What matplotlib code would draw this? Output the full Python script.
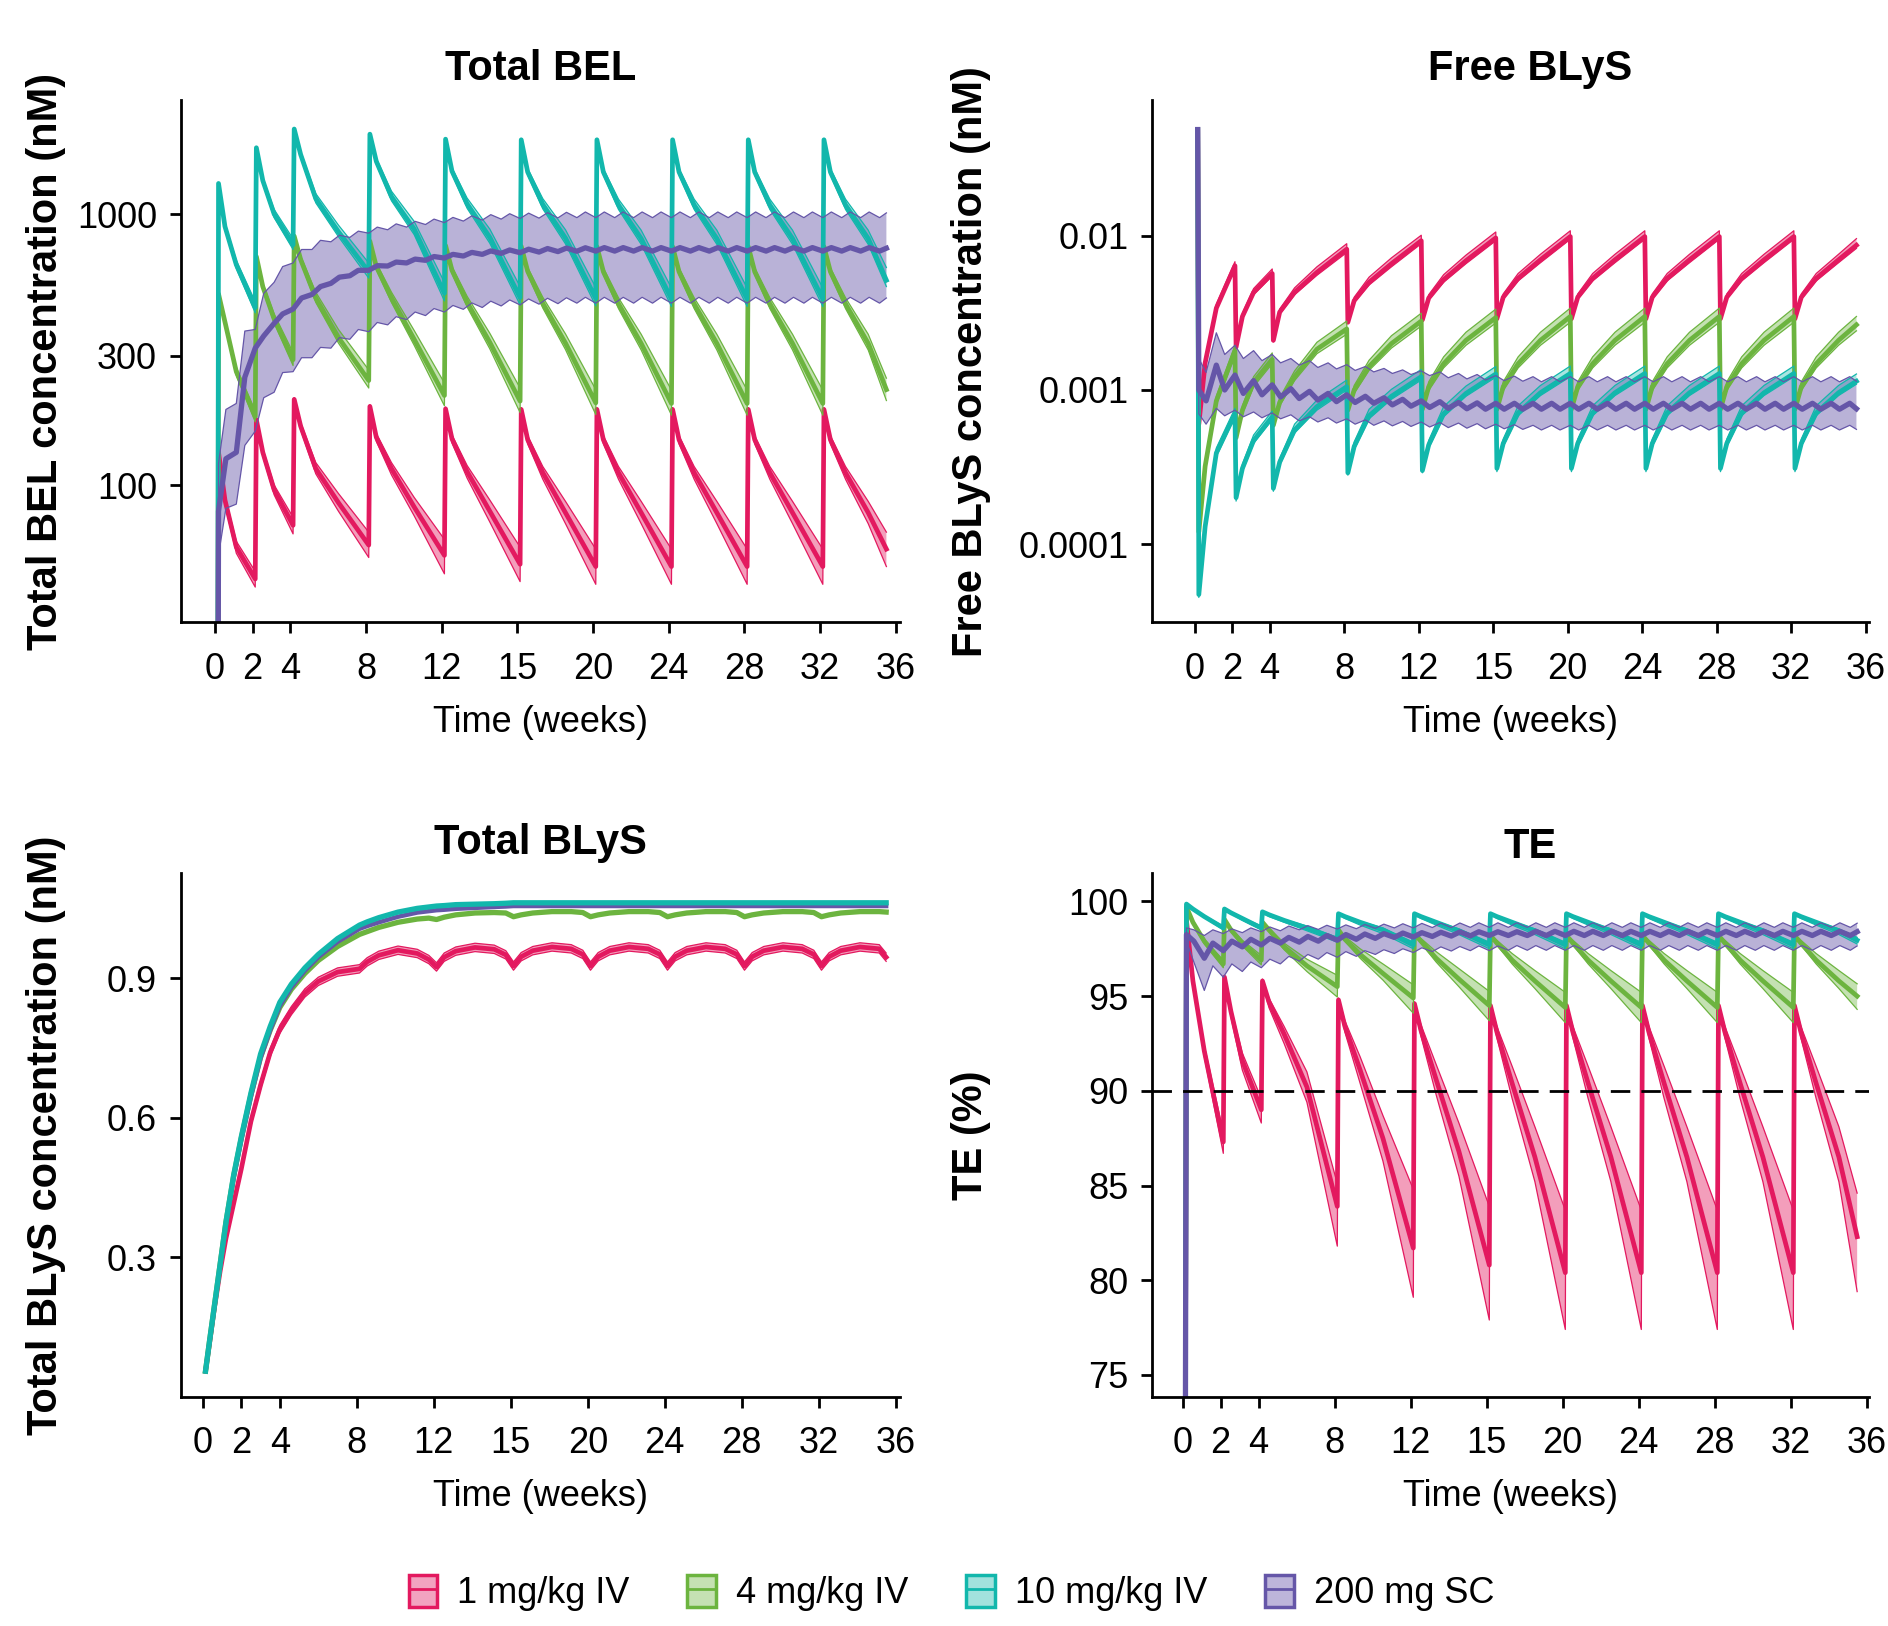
import matplotlib
matplotlib.use("Agg")
import matplotlib.pyplot as plt
from matplotlib.patches import Patch
from matplotlib.lines import Line2D
from matplotlib.ticker import FixedLocator, FixedFormatter, NullLocator

plt.rcParams['font.family'] = ['Liberation Sans', 'DejaVu Sans']

# ---------------- time grids (weeks) ----------------
T_IV = [0.14, 0.20, 0.54, 1.14,
        2.14, 2.20, 2.54, 3.14,
        4.14, 4.20, 4.54, 5.34, 6.54,
        8.14, 8.20, 8.54, 9.34, 10.54,
        12.14, 12.20, 12.54, 13.34, 14.54,
        16.14, 16.20, 16.54, 17.34, 18.54,
        20.14, 20.20, 20.54, 21.34, 22.54,
        24.14, 24.20, 24.54, 25.34, 26.54,
        28.14, 28.20, 28.54, 29.34, 30.54,
        32.14, 32.20, 32.54, 33.34, 34.54,
        35.50]

T_SC = [0.14, 0.20, 0.59,
        1.14, 1.59, 2.14, 2.59, 3.14, 3.59, 4.14, 4.59, 5.14, 5.59, 6.14, 6.59, 7.14, 7.59, 8.14, 8.59, 9.14, 9.59,
        10.14, 10.59, 11.14, 11.59, 12.14, 12.59, 13.14, 13.59, 14.14, 14.59, 15.14, 15.59, 16.14, 16.59, 17.14, 17.59,
        18.14, 18.59, 19.14, 19.59, 20.14, 20.59, 21.14, 21.59, 22.14, 22.59, 23.14, 23.59, 24.14, 24.59, 25.14, 25.59,
        26.14, 26.59, 27.14, 27.59, 28.14, 28.59, 29.14, 29.59, 30.14, 30.59, 31.14, 31.59, 32.14, 32.59, 33.14, 33.59,
        34.14, 34.59, 35.14, 35.50]

T_TB = [0.14, 0.35, 0.6, 0.9, 1.2, 1.6, 2.0, 2.5, 3.0, 3.5, 4.0, 4.6, 5.3, 6.0, 7.0,
        8.14, 8.54, 9.14, 10.14, 11.14, 11.74,
        12.14, 12.54, 13.14, 14.14, 15.14, 15.74,
        16.14, 16.54, 17.14, 18.14, 19.14, 19.74,
        20.14, 20.54, 21.14, 22.14, 23.14, 23.74,
        24.14, 24.54, 25.14, 26.14, 27.14, 27.74,
        28.14, 28.54, 29.14, 30.14, 31.14, 31.74,
        32.14, 32.54, 33.14, 34.14, 35.14, 35.50]

X_TICKS = [0, 2, 4, 8, 12, 16, 20, 24, 28, 32, 36]
X_TICKLABELS = ["0", "2", "4", "8", "12", "15", "20", "24", "28", "32", "36"]

SERIES = ["1 mg/kg IV", "4 mg/kg IV", "10 mg/kg IV", "200 mg SC"]

# ---------------- Total BEL (nM) ----------------
BEL_PINK_MED = [1, 132, 88, 59,
                45, 174, 132, 96,
                71, 207, 165, 115, 86,
                60, 195, 150, 115, 83,
                55, 191, 148, 112, 80,
                51, 190, 147, 111, 79,
                50, 190, 147, 111, 79,
                50, 190, 147, 111, 79,
                50, 190, 147, 111, 79,
                50, 190, 147, 111, 79,
                58]
BEL_PINK_HI = [1, 135, 91, 62,
               48, 177, 136, 100,
               76, 210, 170, 121, 93,
               67, 198, 155, 121, 90,
               63, 194, 153, 118, 88,
               59, 193, 152, 117, 87,
               58, 193, 152, 117, 87,
               58, 193, 152, 117, 87,
               58, 193, 152, 117, 87,
               58, 193, 152, 117, 87,
               67]
BEL_PINK_LO = [1, 129, 85, 56,
               42, 171, 128, 92,
               66, 204, 160, 110, 80,
               54, 192, 145, 109, 77,
               47, 188, 143, 106, 73,
               44, 187, 142, 105, 72,
               43, 187, 142, 105, 72,
               43, 187, 142, 105, 72,
               43, 187, 142, 105, 72,
               43, 187, 142, 105, 72,
               50]

BEL_GREEN_MED = [1, 507, 400, 262,
                 179, 697, 540, 410,
                 290, 829, 680, 490, 350,
                 243, 794, 640, 490, 345,
                 214, 765, 620, 472, 336,
                 204, 760, 615, 468, 334,
                 201, 758, 613, 466, 333,
                 200, 758, 613, 466, 333,
                 200, 758, 613, 466, 333,
                 200, 758, 613, 466, 333,
                 225]
BEL_GREEN_HI = [1, 515, 410, 272,
                188, 705, 555, 428,
                308, 838, 700, 515, 375,
                266, 803, 660, 515, 372,
                238, 774, 640, 497, 363,
                228, 769, 635, 493, 361,
                225, 767, 633, 491, 360,
                224, 767, 633, 491, 360,
                224, 767, 633, 491, 360,
                224, 767, 633, 491, 360,
                248]
BEL_GREEN_LO = [1, 500, 392, 254,
                171, 690, 528, 396,
                276, 820, 665, 472, 334,
                228, 785, 625, 472, 328,
                196, 756, 605, 454, 318,
                185, 751, 600, 450, 316,
                182, 749, 598, 448, 315,
                181, 749, 598, 448, 315,
                181, 749, 598, 448, 315,
                181, 749, 598, 448, 315,
                205]

BEL_TEAL_MED = [1, 1297, 900, 650,
                452, 1757, 1330, 1000,
                770, 2060, 1660, 1140, 860,
                612, 1972, 1565, 1160, 880,
                510, 1890, 1440, 1090, 820,
                492, 1880, 1430, 1085, 815,
                488, 1880, 1430, 1080, 812,
                486, 1880, 1430, 1080, 812,
                486, 1880, 1430, 1080, 812,
                486, 1880, 1430, 1080, 812,
                570]
BEL_TEAL_HI = [1, 1310, 925, 675,
               475, 1775, 1360, 1040,
               810, 2080, 1700, 1190, 910,
               660, 1990, 1605, 1215, 940,
               560, 1910, 1480, 1145, 880,
               540, 1900, 1470, 1140, 875,
               536, 1900, 1470, 1135, 872,
               534, 1900, 1470, 1135, 872,
               534, 1900, 1470, 1135, 872,
               534, 1900, 1470, 1135, 872,
               635]
BEL_TEAL_LO = [1, 1285, 880, 630,
               432, 1740, 1305, 970,
               740, 2040, 1625, 1100, 825,
               580, 1955, 1530, 1120, 840,
               478, 1870, 1405, 1050, 780,
               462, 1860, 1395, 1045, 776,
               458, 1860, 1395, 1040, 773,
               456, 1860, 1395, 1040, 773,
               456, 1860, 1395, 1040, 773,
               456, 1860, 1395, 1040, 773,
               540]

BEL_PURPLE_MED = [1, 80, 125,
                  132, 250, 320, 355, 395, 428, 446, 490, 505, 540, 555, 585, 592, 620, 620, 645, 643, 665,
                  660, 682, 675, 697, 688, 710, 700, 722, 710, 731, 716, 737, 720, 742, 724, 746,
                  727, 749, 729, 751, 730, 752, 730, 752, 730, 752, 730, 752, 730, 752, 730, 752,
                  730, 752, 730, 752, 730, 752, 730, 752, 730, 752, 730, 752, 730, 752, 730, 752,
                  730, 752, 730, 748]
BEL_PURPLE_HI = [1, 120, 190,
                 200, 370, 375, 510, 560, 640, 660, 740, 740, 800, 790, 835, 820, 865, 850, 895, 875, 920,
                 895, 940, 915, 958, 930, 972, 942, 985, 950, 995, 958, 1003, 963, 1008, 966, 1012,
                 968, 1015, 970, 1018, 970, 1018, 970, 1018, 970, 1018, 970, 1018, 970, 1018, 970, 1018,
                 970, 1018, 970, 1018, 970, 1018, 970, 1018, 970, 1018, 970, 1018, 970, 1018, 970, 1018,
                 970, 1018, 970, 1010]
BEL_PURPLE_LO = [1, 55, 82,
                 85, 140, 158, 210, 220, 260, 262, 295, 295, 322, 320, 350, 345, 375, 368, 398, 390, 418,
                 408, 435, 422, 448, 435, 460, 445, 470, 452, 477, 458, 482, 462, 486, 465, 489,
                 467, 491, 469, 493, 469, 493, 469, 493, 469, 493, 469, 493, 469, 493, 469, 493,
                 469, 493, 469, 493, 469, 493, 469, 493, 469, 493, 469, 493, 469, 493, 469, 493,
                 469, 493, 469, 490]

# ---------------- Free BLyS (nM) ----------------
FB_PINK_MED = [0.049, 6.0e-4, 1.5e-3, 3.4e-3,
               6.4e-3, 1.9e-3, 3.0e-3, 4.3e-3,
               5.7e-3, 2.1e-3, 3.2e-3, 4.3e-3, 5.8e-3,
               8.2e-3, 2.75e-3, 3.8e-3, 5.0e-3, 6.6e-3,
               9.3e-3, 2.85e-3, 3.95e-3, 5.2e-3, 6.9e-3,
               9.7e-3, 2.9e-3, 4.0e-3, 5.3e-3, 7.0e-3,
               9.9e-3, 2.9e-3, 4.0e-3, 5.3e-3, 7.0e-3,
               9.9e-3, 2.9e-3, 4.0e-3, 5.3e-3, 7.0e-3,
               9.9e-3, 2.9e-3, 4.0e-3, 5.3e-3, 7.0e-3,
               9.9e-3, 2.9e-3, 4.0e-3, 5.3e-3, 7.0e-3,
               8.7e-3]
FB_PINK_HI = [0.049, 6.3e-4, 1.6e-3, 3.6e-3,
              6.8e-3, 2.0e-3, 3.15e-3, 4.55e-3,
              6.1e-3, 2.2e-3, 3.35e-3, 4.6e-3, 6.3e-3,
              8.9e-3, 2.85e-3, 4.0e-3, 5.4e-3, 7.2e-3,
              1.01e-2, 2.95e-3, 4.15e-3, 5.6e-3, 7.5e-3,
              1.06e-2, 3.0e-3, 4.2e-3, 5.7e-3, 7.6e-3,
              1.08e-2, 3.0e-3, 4.2e-3, 5.7e-3, 7.6e-3,
              1.08e-2, 3.0e-3, 4.2e-3, 5.7e-3, 7.6e-3,
              1.08e-2, 3.0e-3, 4.2e-3, 5.7e-3, 7.6e-3,
              1.08e-2, 3.0e-3, 4.2e-3, 5.7e-3, 7.6e-3,
              9.6e-3]
FB_PINK_LO = [0.049, 5.8e-4, 1.45e-3, 3.3e-3,
              6.2e-3, 1.85e-3, 2.9e-3, 4.15e-3,
              5.5e-3, 2.05e-3, 3.1e-3, 4.15e-3, 5.55e-3,
              7.8e-3, 2.7e-3, 3.7e-3, 4.8e-3, 6.3e-3,
              8.9e-3, 2.8e-3, 3.85e-3, 5.0e-3, 6.6e-3,
              9.3e-3, 2.85e-3, 3.9e-3, 5.1e-3, 6.7e-3,
              9.5e-3, 2.85e-3, 3.9e-3, 5.1e-3, 6.7e-3,
              9.5e-3, 2.85e-3, 3.9e-3, 5.1e-3, 6.7e-3,
              9.5e-3, 2.85e-3, 3.9e-3, 5.1e-3, 6.7e-3,
              9.5e-3, 2.85e-3, 3.9e-3, 5.1e-3, 6.7e-3,
              8.3e-3]

FB_GREEN_MED = [0.049, 1.2e-4, 3.2e-4, 8.5e-4,
                1.79e-3, 4.9e-4, 7.4e-4, 1.12e-3,
                1.58e-3, 5.9e-4, 8.3e-4, 1.22e-3, 1.84e-3,
                2.49e-3, 7.4e-4, 1.0e-3, 1.42e-3, 2.0e-3,
                2.8e-3, 7.5e-4, 1.05e-3, 1.48e-3, 2.1e-3,
                2.95e-3, 7.5e-4, 1.05e-3, 1.48e-3, 2.1e-3,
                3.0e-3, 7.5e-4, 1.05e-3, 1.48e-3, 2.1e-3,
                3.0e-3, 7.5e-4, 1.05e-3, 1.48e-3, 2.1e-3,
                3.0e-3, 7.5e-4, 1.05e-3, 1.48e-3, 2.1e-3,
                3.0e-3, 7.5e-4, 1.05e-3, 1.48e-3, 2.1e-3,
                2.65e-3]
FB_GREEN_HI = [0.049, 1.25e-4, 3.4e-4, 9.1e-4,
               1.95e-3, 5.1e-4, 7.9e-4, 1.22e-3,
               1.74e-3, 6.1e-4, 8.9e-4, 1.33e-3, 2.04e-3,
               2.8e-3, 7.7e-4, 1.07e-3, 1.56e-3, 2.25e-3,
               3.15e-3, 7.8e-4, 1.13e-3, 1.64e-3, 2.37e-3,
               3.35e-3, 7.8e-4, 1.13e-3, 1.64e-3, 2.37e-3,
               3.4e-3, 7.8e-4, 1.13e-3, 1.64e-3, 2.37e-3,
               3.4e-3, 7.8e-4, 1.13e-3, 1.64e-3, 2.37e-3,
               3.4e-3, 7.8e-4, 1.13e-3, 1.64e-3, 2.37e-3,
               3.4e-3, 7.8e-4, 1.13e-3, 1.64e-3, 2.37e-3,
               3.0e-3]
FB_GREEN_LO = [0.049, 1.15e-4, 3.05e-4, 8.0e-4,
               1.68e-3, 4.7e-4, 7.0e-4, 1.05e-3,
               1.48e-3, 5.7e-4, 7.9e-4, 1.15e-3, 1.72e-3,
               2.3e-3, 7.1e-4, 9.5e-4, 1.34e-3, 1.87e-3,
               2.6e-3, 7.2e-4, 9.9e-4, 1.39e-3, 1.95e-3,
               2.72e-3, 7.2e-4, 9.9e-4, 1.39e-3, 1.95e-3,
               2.75e-3, 7.2e-4, 9.9e-4, 1.39e-3, 1.95e-3,
               2.75e-3, 7.2e-4, 9.9e-4, 1.39e-3, 1.95e-3,
               2.75e-3, 7.2e-4, 9.9e-4, 1.39e-3, 1.95e-3,
               2.75e-3, 7.2e-4, 9.9e-4, 1.39e-3, 1.95e-3,
               2.42e-3]

FB_TEAL_MED = [0.049, 4.7e-5, 1.3e-4, 3.9e-4,
               7.0e-4, 2.0e-4, 3.1e-4, 4.7e-4,
               6.7e-4, 2.3e-4, 3.4e-4, 5.5e-4, 7.8e-4,
               1.05e-3, 2.9e-4, 4.3e-4, 6.8e-4, 9.1e-4,
               1.22e-3, 3.0e-4, 4.4e-4, 7.0e-4, 9.5e-4,
               1.27e-3, 3.1e-4, 4.5e-4, 7.1e-4, 9.6e-4,
               1.28e-3, 3.1e-4, 4.5e-4, 7.1e-4, 9.6e-4,
               1.28e-3, 3.1e-4, 4.5e-4, 7.1e-4, 9.6e-4,
               1.28e-3, 3.1e-4, 4.5e-4, 7.1e-4, 9.6e-4,
               1.28e-3, 3.1e-4, 4.5e-4, 7.1e-4, 9.6e-4,
               1.14e-3]
FB_TEAL_HI = [0.049, 4.9e-5, 1.4e-4, 4.2e-4,
              7.6e-4, 2.1e-4, 3.3e-4, 5.1e-4,
              7.3e-4, 2.4e-4, 3.6e-4, 6.0e-4, 8.6e-4,
              1.16e-3, 3.0e-4, 4.6e-4, 7.5e-4, 1.01e-3,
              1.36e-3, 3.15e-4, 4.7e-4, 7.8e-4, 1.06e-3,
              1.42e-3, 3.25e-4, 4.8e-4, 7.9e-4, 1.07e-3,
              1.43e-3, 3.25e-4, 4.8e-4, 7.9e-4, 1.07e-3,
              1.43e-3, 3.25e-4, 4.8e-4, 7.9e-4, 1.07e-3,
              1.43e-3, 3.25e-4, 4.8e-4, 7.9e-4, 1.07e-3,
              1.43e-3, 3.25e-4, 4.8e-4, 7.9e-4, 1.07e-3,
              1.27e-3]
FB_TEAL_LO = [0.049, 4.5e-5, 1.25e-4, 3.7e-4,
              6.7e-4, 1.9e-4, 2.95e-4, 4.5e-4,
              6.4e-4, 2.2e-4, 3.25e-4, 5.25e-4, 7.4e-4,
              1.0e-3, 2.8e-4, 4.1e-4, 6.5e-4, 8.7e-4,
              1.16e-3, 2.9e-4, 4.2e-4, 6.7e-4, 9.1e-4,
              1.21e-3, 2.95e-4, 4.3e-4, 6.8e-4, 9.2e-4,
              1.22e-3, 2.95e-4, 4.3e-4, 6.8e-4, 9.2e-4,
              1.22e-3, 2.95e-4, 4.3e-4, 6.8e-4, 9.2e-4,
              1.22e-3, 2.95e-4, 4.3e-4, 6.8e-4, 9.2e-4,
              1.22e-3, 2.95e-4, 4.3e-4, 6.8e-4, 9.2e-4,
              1.09e-3]

FB_PURPLE_MED = [0.049, 1.0e-3, 8.5e-4,
                 1.45e-3, 1.0e-3, 1.25e-3, 9.5e-4, 1.15e-3, 9.3e-4, 1.08e-3, 9.0e-4, 1.02e-3, 8.8e-4,
                 9.8e-4, 8.6e-4, 9.5e-4, 8.4e-4, 9.3e-4, 8.3e-4, 9.1e-4, 8.2e-4,
                 8.9e-4, 8.0e-4, 8.7e-4, 7.85e-4, 8.5e-4, 7.7e-4, 8.4e-4, 7.6e-4, 8.3e-4, 7.55e-4,
                 8.25e-4, 7.5e-4, 8.2e-4, 7.5e-4, 8.2e-4, 7.5e-4,
                 8.2e-4, 7.5e-4, 8.2e-4, 7.5e-4, 8.2e-4, 7.5e-4, 8.2e-4, 7.5e-4, 8.2e-4, 7.5e-4,
                 8.2e-4, 7.5e-4, 8.2e-4, 7.5e-4, 8.2e-4, 7.5e-4,
                 8.2e-4, 7.5e-4, 8.2e-4, 7.5e-4, 8.2e-4, 7.5e-4, 8.2e-4, 7.5e-4, 8.2e-4, 7.5e-4,
                 8.2e-4, 7.5e-4, 8.2e-4, 7.5e-4, 8.2e-4, 7.5e-4,
                 8.2e-4, 7.5e-4, 8.2e-4, 7.55e-4]
FB_PURPLE_HI = [0.049, 1.6e-3, 1.3e-3,
                2.35e-3, 1.7e-3, 1.95e-3, 1.6e-3, 1.8e-3, 1.55e-3, 1.7e-3, 1.5e-3, 1.6e-3, 1.45e-3,
                1.55e-3, 1.4e-3, 1.5e-3, 1.37e-3, 1.46e-3, 1.34e-3, 1.42e-3, 1.31e-3,
                1.38e-3, 1.28e-3, 1.35e-3, 1.26e-3, 1.33e-3, 1.24e-3, 1.31e-3, 1.2e-3, 1.28e-3, 1.18e-3,
                1.26e-3, 1.16e-3, 1.24e-3, 1.15e-3, 1.23e-3, 1.14e-3,
                1.22e-3, 1.13e-3, 1.22e-3, 1.13e-3, 1.22e-3, 1.13e-3, 1.22e-3, 1.13e-3, 1.22e-3, 1.13e-3,
                1.22e-3, 1.13e-3, 1.22e-3, 1.13e-3, 1.22e-3, 1.13e-3,
                1.22e-3, 1.13e-3, 1.22e-3, 1.13e-3, 1.22e-3, 1.13e-3, 1.22e-3, 1.13e-3, 1.22e-3, 1.13e-3,
                1.22e-3, 1.13e-3, 1.22e-3, 1.13e-3, 1.22e-3, 1.13e-3,
                1.22e-3, 1.13e-3, 1.22e-3, 1.14e-3]
FB_PURPLE_LO = [0.049, 7.0e-4, 6.0e-4,
                7.6e-4, 6.8e-4, 7.4e-4, 6.7e-4, 7.2e-4, 6.6e-4, 7.1e-4, 6.5e-4, 6.9e-4, 6.3e-4,
                6.7e-4, 6.2e-4, 6.6e-4, 6.1e-4, 6.5e-4, 6.0e-4, 6.4e-4, 5.9e-4,
                6.3e-4, 5.85e-4, 6.25e-4, 5.8e-4, 6.2e-4, 5.75e-4, 6.15e-4, 5.7e-4, 6.1e-4, 5.65e-4,
                6.05e-4, 5.6e-4, 6.0e-4, 5.6e-4, 5.95e-4, 5.55e-4,
                5.9e-4, 5.5e-4, 5.9e-4, 5.5e-4, 5.9e-4, 5.5e-4, 5.9e-4, 5.5e-4, 5.9e-4, 5.5e-4,
                5.9e-4, 5.5e-4, 5.9e-4, 5.5e-4, 5.9e-4, 5.5e-4,
                5.9e-4, 5.5e-4, 5.9e-4, 5.5e-4, 5.9e-4, 5.5e-4, 5.9e-4, 5.5e-4, 5.9e-4, 5.5e-4,
                5.9e-4, 5.5e-4, 5.9e-4, 5.5e-4, 5.9e-4, 5.5e-4,
                5.9e-4, 5.5e-4, 5.9e-4, 5.55e-4]

# ---------------- Total BLyS (nM), on T_TB ----------------
TB_PINK_MED = [0.055, 0.115, 0.19, 0.27, 0.34, 0.415, 0.49, 0.592, 0.67, 0.74, 0.79, 0.83, 0.868, 0.893, 0.913,
               0.920, 0.935, 0.949, 0.960, 0.953, 0.940,
               0.924, 0.945, 0.958, 0.966, 0.962, 0.950,
               0.926, 0.946, 0.959, 0.967, 0.963, 0.951,
               0.926, 0.946, 0.959, 0.967, 0.963, 0.951,
               0.926, 0.946, 0.959, 0.967, 0.963, 0.951,
               0.926, 0.946, 0.959, 0.967, 0.963, 0.951,
               0.926, 0.946, 0.959, 0.967, 0.963, 0.945]
TB_PINK_HI = [0.055, 0.118, 0.195, 0.277, 0.348, 0.424, 0.499, 0.601, 0.679, 0.749, 0.799, 0.839, 0.877, 0.902, 0.922,
              0.929, 0.944, 0.958, 0.969, 0.962, 0.949,
              0.933, 0.954, 0.967, 0.975, 0.971, 0.959,
              0.935, 0.955, 0.968, 0.976, 0.972, 0.960,
              0.935, 0.955, 0.968, 0.976, 0.972, 0.960,
              0.935, 0.955, 0.968, 0.976, 0.972, 0.960,
              0.935, 0.955, 0.968, 0.976, 0.972, 0.960,
              0.935, 0.955, 0.968, 0.976, 0.972, 0.954]
TB_PINK_LO = [0.055, 0.112, 0.185, 0.263, 0.332, 0.406, 0.481, 0.583, 0.661, 0.731, 0.781, 0.821, 0.859, 0.884, 0.904,
              0.911, 0.926, 0.940, 0.951, 0.944, 0.931,
              0.915, 0.936, 0.949, 0.957, 0.953, 0.941,
              0.917, 0.937, 0.950, 0.958, 0.954, 0.942,
              0.917, 0.937, 0.950, 0.958, 0.954, 0.942,
              0.917, 0.937, 0.950, 0.958, 0.954, 0.942,
              0.917, 0.937, 0.950, 0.958, 0.954, 0.942,
              0.917, 0.937, 0.950, 0.958, 0.954, 0.936]
TB_GREEN_MED = [0.055, 0.12, 0.195, 0.285, 0.375, 0.474, 0.556, 0.649, 0.73, 0.788, 0.837, 0.876, 0.91, 0.938, 0.968,
                0.994, 1.000, 1.009, 1.020, 1.027, 1.029,
                1.026, 1.031, 1.036, 1.040, 1.041, 1.040,
                1.032, 1.036, 1.040, 1.043, 1.043, 1.041,
                1.032, 1.036, 1.040, 1.043, 1.043, 1.041,
                1.032, 1.036, 1.040, 1.043, 1.043, 1.041,
                1.032, 1.036, 1.040, 1.043, 1.043, 1.041,
                1.032, 1.036, 1.040, 1.043, 1.043, 1.042]
TB_TEAL_MED = [0.055, 0.12, 0.195, 0.285, 0.375, 0.476, 0.559, 0.653, 0.737, 0.796, 0.848, 0.887, 0.922, 0.951, 0.985,
               1.014, 1.021, 1.030, 1.042, 1.050, 1.053,
               1.055, 1.056, 1.058, 1.059, 1.060, 1.061,
               1.062, 1.062, 1.062, 1.062, 1.062, 1.062,
               1.062, 1.062, 1.062, 1.062, 1.062, 1.062,
               1.062, 1.062, 1.062, 1.062, 1.062, 1.062,
               1.062, 1.062, 1.062, 1.062, 1.062, 1.062,
               1.062, 1.062, 1.062, 1.062, 1.062, 1.062]
TB_PURPLE_MED = [0.055, 0.118, 0.192, 0.281, 0.37, 0.47, 0.552, 0.645, 0.728, 0.788, 0.84, 0.88, 0.916, 0.945, 0.978,
                 1.006, 1.012, 1.020, 1.032, 1.041, 1.044,
                 1.046, 1.047, 1.049, 1.051, 1.053, 1.054,
                 1.055, 1.055, 1.055, 1.055, 1.055, 1.055,
                 1.055, 1.055, 1.055, 1.055, 1.055, 1.055,
                 1.055, 1.055, 1.055, 1.055, 1.055, 1.055,
                 1.055, 1.055, 1.055, 1.055, 1.055, 1.055,
                 1.055, 1.055, 1.055, 1.055, 1.055, 1.055]

# ---------------- TE (%) ----------------
TE_PINK_MED = [70, 99.0, 95.8, 92.1,
               87.3, 96.0, 94.2, 91.6,
               89.0, 95.8, 94.7, 93.0, 90.2,
               83.9, 94.8, 93.4, 91.1, 87.5,
               81.7, 94.6, 93.2, 90.6, 86.8,
               80.8, 94.5, 93.1, 90.4, 86.5,
               80.4, 94.5, 93.1, 90.4, 86.5,
               80.4, 94.5, 93.1, 90.4, 86.5,
               80.4, 94.5, 93.1, 90.4, 86.5,
               80.4, 94.5, 93.1, 90.4, 86.5,
               82.3]
TE_PINK_HI = [70, 99.1, 96.0, 92.4,
              87.8, 96.1, 94.4, 92.0,
              89.6, 95.9, 94.9, 93.4, 91.0,
              85.1, 94.9, 93.7, 91.8, 88.7,
              84.8, 94.7, 93.5, 91.4, 88.3,
              83.9, 94.6, 93.4, 91.3, 88.1,
              83.7, 94.6, 93.4, 91.3, 88.1,
              83.7, 94.6, 93.4, 91.3, 88.1,
              83.7, 94.6, 93.4, 91.3, 88.1,
              83.7, 94.6, 93.4, 91.3, 88.1,
              84.6]
TE_PINK_LO = [70, 98.9, 95.6, 91.8,
              86.7, 95.9, 93.9, 91.1,
              88.3, 95.7, 94.4, 92.5, 89.4,
              81.8, 94.7, 93.1, 90.4, 86.3,
              79.1, 94.5, 92.9, 89.8, 85.5,
              77.9, 94.4, 92.8, 89.6, 85.2,
              77.4, 94.4, 92.8, 89.6, 85.2,
              77.4, 94.4, 92.8, 89.6, 85.2,
              77.4, 94.4, 92.8, 89.6, 85.2,
              77.4, 94.4, 92.8, 89.6, 85.2,
              79.4]

TE_GREEN_MED = [70, 99.7, 98.9, 97.9,
                96.7, 99.05, 98.5, 97.8,
                96.9, 98.9, 98.5, 97.6, 96.6,
                95.5, 98.5, 98.0, 97.2, 96.2,
                94.9, 98.3, 97.9, 97.0, 95.9,
                94.5, 98.2, 97.8, 96.9, 95.8,
                94.4, 98.2, 97.8, 96.9, 95.8,
                94.4, 98.2, 97.8, 96.9, 95.8,
                94.4, 98.2, 97.8, 96.9, 95.8,
                94.4, 98.2, 97.8, 96.9, 95.8,
                95.0]
TE_GREEN_HI = [70, 99.75, 99.0, 98.0,
               96.9, 99.1, 98.6, 97.95,
               97.15, 98.95, 98.6, 97.8, 96.95,
               96.1, 98.55, 98.15, 97.5, 96.7,
               95.6, 98.35, 98.05, 97.35, 96.45,
               95.25, 98.25, 97.95, 97.25, 96.35,
               95.2, 98.25, 97.95, 97.25, 96.35,
               95.2, 98.25, 97.95, 97.25, 96.35,
               95.2, 98.25, 97.95, 97.25, 96.35,
               95.2, 98.25, 97.95, 97.25, 96.35,
               95.65]
TE_GREEN_LO = [70, 99.65, 98.8, 97.75,
               96.5, 99.0, 98.4, 97.65,
               96.65, 98.85, 98.4, 97.45, 96.3,
               94.95, 98.45, 97.9, 97.0, 95.85,
               94.1, 98.25, 97.8, 96.8, 95.5,
               93.7, 98.15, 97.7, 96.7, 95.4,
               93.6, 98.15, 97.7, 96.7, 95.4,
               93.6, 98.15, 97.7, 96.7, 95.4,
               93.6, 98.15, 97.7, 96.7, 95.4,
               93.6, 98.15, 97.7, 96.7, 95.4,
               94.3]

TE_TEAL_MED = [70, 99.86, 99.6, 99.2,
               98.6, 99.6, 99.4, 99.1,
               98.6, 99.45, 99.3, 99.0, 98.6,
               98.0, 99.35, 99.2, 98.9, 98.5,
               97.7, 99.35, 99.2, 98.9, 98.45,
               97.7, 99.35, 99.2, 98.9, 98.45,
               97.7, 99.35, 99.2, 98.9, 98.45,
               97.7, 99.35, 99.2, 98.9, 98.45,
               97.7, 99.35, 99.2, 98.9, 98.45,
               97.7, 99.35, 99.2, 98.9, 98.45,
               97.95]
TE_TEAL_HI = [70, 99.9, 99.65, 99.25,
              98.7, 99.65, 99.45, 99.15,
              98.7, 99.5, 99.35, 99.05, 98.7,
              98.1, 99.4, 99.25, 98.95, 98.6,
              97.85, 99.4, 99.25, 98.95, 98.55,
              97.85, 99.4, 99.25, 98.95, 98.55,
              97.85, 99.4, 99.25, 98.95, 98.55,
              97.85, 99.4, 99.25, 98.95, 98.55,
              97.85, 99.4, 99.25, 98.95, 98.55,
              97.85, 99.4, 99.25, 98.95, 98.55,
              98.1]
TE_TEAL_LO = [70, 99.82, 99.55, 99.15,
              98.5, 99.55, 99.35, 99.0,
              98.5, 99.4, 99.2, 98.9, 98.45,
              97.85, 99.3, 99.1, 98.75, 98.3,
              97.5, 99.3, 99.1, 98.75, 98.25,
              97.5, 99.3, 99.1, 98.75, 98.25,
              97.5, 99.3, 99.1, 98.75, 98.25,
              97.5, 99.3, 99.1, 98.75, 98.25,
              97.5, 99.3, 99.1, 98.75, 98.25,
              97.5, 99.3, 99.1, 98.75, 98.25,
              97.75]

TE_PURPLE_MED = [70, 98.25, 97.9,
                 97.0, 97.8, 97.4, 97.9, 97.6, 98.0, 97.7, 98.05, 97.8, 98.1, 97.85, 98.15, 97.9, 98.2, 97.95, 98.25, 98.0, 98.28,
                 98.05, 98.3, 98.1, 98.33, 98.12, 98.35, 98.15, 98.37, 98.17, 98.39, 98.18, 98.4, 98.2, 98.4, 98.2, 98.4,
                 98.2, 98.42, 98.2, 98.42, 98.2, 98.42, 98.2, 98.42, 98.2, 98.42, 98.2, 98.42, 98.2, 98.42, 98.2, 98.42,
                 98.2, 98.42, 98.2, 98.42, 98.2, 98.42, 98.2, 98.42, 98.2, 98.42, 98.2, 98.42, 98.2, 98.42, 98.2, 98.42,
                 98.2, 98.42, 98.2, 98.4]
TE_PURPLE_HI = [70, 98.6, 98.5,
                98.2, 98.5, 98.3, 98.55, 98.35, 98.6, 98.4, 98.65, 98.45, 98.7, 98.5, 98.72, 98.52, 98.74, 98.54, 98.76, 98.56, 98.78,
                98.58, 98.8, 98.6, 98.82, 98.6, 98.84, 98.62, 98.85, 98.62, 98.86, 98.63, 98.87, 98.63, 98.87, 98.63, 98.87,
                98.63, 98.87, 98.63, 98.87, 98.63, 98.87, 98.63, 98.87, 98.63, 98.87, 98.63, 98.87, 98.63, 98.87, 98.63, 98.87,
                98.63, 98.87, 98.63, 98.87, 98.63, 98.87, 98.63, 98.87, 98.63, 98.87, 98.63, 98.87, 98.63, 98.87, 98.63, 98.87,
                98.63, 98.87, 98.63, 98.85]
TE_PURPLE_LO = [70, 97.9, 96.8,
                95.3, 96.6, 96.0, 96.7, 96.3, 96.8, 96.5, 96.95, 96.7, 97.1, 96.85, 97.2, 96.95, 97.3, 97.05, 97.35, 97.1, 97.4,
                97.2, 97.45, 97.25, 97.5, 97.3, 97.55, 97.35, 97.6, 97.38, 97.62, 97.4, 97.65, 97.4, 97.65, 97.42, 97.67,
                97.42, 97.67, 97.42, 97.67, 97.42, 97.67, 97.42, 97.67, 97.42, 97.67, 97.42, 97.67, 97.42, 97.67, 97.42, 97.67,
                97.42, 97.67, 97.42, 97.67, 97.42, 97.67, 97.42, 97.67, 97.42, 97.67, 97.42, 97.67, 97.42, 97.67, 97.42, 97.67,
                97.42, 97.67, 97.42, 97.65]

# ---------------- styling ----------------
C_PINK, C_GREEN, C_TEAL, C_PURPLE = "#E3195F", "#6CB43F", "#12B7AC", "#6556A8"
F_PINK, F_GREEN, F_TEAL, F_PURPLE = "#F2A3C0", "#C5E1B3", "#A2E2DD", "#BDB5DA"
A_FILL = {C_PINK: 0.42, C_GREEN: 0.40, C_TEAL: 0.36, C_PURPLE: 0.45}

fig = plt.figure(figsize=(18.88, 16.26), dpi=100)
ax_tl = fig.add_axes([0.0957, 0.6172, 0.3808, 0.3214])
ax_tr = fig.add_axes([0.6103, 0.6172, 0.3794, 0.3214])
ax_bl = fig.add_axes([0.0957, 0.1410, 0.3808, 0.3221])
ax_br = fig.add_axes([0.6103, 0.1410, 0.3794, 0.3221])


def draw(ax, t, med, lo, hi, color, lw=3.4):
    n = len(t)
    assert len(med) == n, (color, len(med), n)
    if lo is not None:
        assert len(lo) == n and len(hi) == n, (color, len(lo), len(hi), n)
        ax.fill_between(t, lo, hi, facecolor=color, alpha=A_FILL[color], lw=0)
        ax.plot(t, lo, color=color, lw=0.9)
        ax.plot(t, hi, color=color, lw=0.9)
    ax.plot(t, med, color=color, lw=lw)


def style(ax, title, ylabel, xlim, ylab_x, title_x=0.5, title_pad=14):
    for s in ("top", "right"):
        ax.spines[s].set_visible(False)
    for s in ("left", "bottom"):
        ax.spines[s].set_linewidth(2.0)
    ax.tick_params(axis="both", which="major", width=2.0, length=8, labelsize=26, pad=9)
    ax.tick_params(axis="x", which="major", pad=13)
    ax.tick_params(axis="both", which="minor", length=0)
    ax.set_xlim(*xlim)
    ax.xaxis.set_major_locator(FixedLocator(X_TICKS))
    ax.xaxis.set_major_formatter(FixedFormatter(X_TICKLABELS))
    ax.set_xlabel("Time (weeks)", fontsize=26, labelpad=13)
    ax.set_ylabel(ylabel, fontsize=30, fontweight="bold")
    ax.yaxis.set_label_coords(ylab_x, 0.5)
    ax.set_title(title, fontsize=30, fontweight="bold", pad=title_pad, x=title_x)


# Total BEL
draw(ax_tl, T_IV, BEL_PINK_MED, BEL_PINK_LO, BEL_PINK_HI, C_PINK)
draw(ax_tl, T_IV, BEL_GREEN_MED, BEL_GREEN_LO, BEL_GREEN_HI, C_GREEN)
draw(ax_tl, T_IV, BEL_TEAL_MED, BEL_TEAL_LO, BEL_TEAL_HI, C_TEAL)
draw(ax_tl, T_SC, BEL_PURPLE_MED, BEL_PURPLE_LO, BEL_PURPLE_HI, C_PURPLE, lw=3.8)
ax_tl.set_yscale("log")
ax_tl.set_ylim(31.1, 2640)
ax_tl.yaxis.set_major_locator(FixedLocator([100, 300, 1000]))
ax_tl.yaxis.set_major_formatter(FixedFormatter(["100", "300", "1000"]))
ax_tl.yaxis.set_minor_locator(NullLocator())
style(ax_tl, "Total BEL", "Total BEL concentration (nM)", (-1.8, 36.2), -0.159)

# Free BLyS
draw(ax_tr, T_IV, FB_PINK_MED, FB_PINK_LO, FB_PINK_HI, C_PINK)
draw(ax_tr, T_IV, FB_GREEN_MED, FB_GREEN_LO, FB_GREEN_HI, C_GREEN)
draw(ax_tr, T_IV, FB_TEAL_MED, FB_TEAL_LO, FB_TEAL_HI, C_TEAL)
draw(ax_tr, T_SC, FB_PURPLE_MED, FB_PURPLE_LO, FB_PURPLE_HI, C_PURPLE, lw=3.8)
ax_tr.set_yscale("log")
ax_tr.set_ylim(3.1e-5, 0.0764)
ax_tr.yaxis.set_major_locator(FixedLocator([1e-4, 1e-3, 1e-2]))
ax_tr.yaxis.set_major_formatter(FixedFormatter(["0.0001", "0.001", "0.01"]))
ax_tr.yaxis.set_minor_locator(NullLocator())
style(ax_tr, "Free BLyS", "Free BLyS concentration (nM)", (-2.3, 36.15), -0.225, title_x=0.527)

# Total BLyS
draw(ax_bl, T_TB, TB_PINK_MED, TB_PINK_LO, TB_PINK_HI, C_PINK)
draw(ax_bl, T_TB, TB_GREEN_MED, None, None, C_GREEN, lw=3.8)
draw(ax_bl, T_TB, TB_PURPLE_MED, None, None, C_PURPLE, lw=3.2)
draw(ax_bl, T_TB, TB_TEAL_MED, None, None, C_TEAL, lw=3.8)
ax_bl.set_ylim(0.0, 1.126)
ax_bl.yaxis.set_major_locator(FixedLocator([0.3, 0.6, 0.9]))
ax_bl.yaxis.set_major_formatter(FixedFormatter(["0.3", "0.6", "0.9"]))
style(ax_bl, "Total BLyS", "Total BLyS concentration (nM)", (-1.15, 36.2), -0.159)

# TE
draw(ax_br, T_IV, TE_PINK_MED, TE_PINK_LO, TE_PINK_HI, C_PINK)
draw(ax_br, T_IV, TE_GREEN_MED, TE_GREEN_LO, TE_GREEN_HI, C_GREEN)
draw(ax_br, T_IV, TE_TEAL_MED, TE_TEAL_LO, TE_TEAL_HI, C_TEAL)
draw(ax_br, T_SC, TE_PURPLE_MED, TE_PURPLE_LO, TE_PURPLE_HI, C_PURPLE, lw=3.8)
ax_br.axhline(90, color="black", lw=2.0, dashes=(7, 4), zorder=5)
ax_br.set_ylim(73.85, 101.5)
ax_br.yaxis.set_major_locator(FixedLocator([75, 80, 85, 90, 95, 100]))
ax_br.yaxis.set_major_formatter(FixedFormatter(["75", "80", "85", "90", "95", "100"]))
style(ax_br, "TE", "TE (%)", (-1.6, 36.1), -0.225, title_x=0.527, title_pad=11)

# legend
handles = []
for c, f in ((C_PINK, F_PINK), (C_GREEN, F_GREEN), (C_TEAL, F_TEAL), (C_PURPLE, F_PURPLE)):
    handles.append((Patch(facecolor=f, edgecolor=c, linewidth=2.5),
                    Line2D([0], [0], color=c, lw=2.0)))
fig.legend(handles, SERIES, loc="center", bbox_to_anchor=(0.504, 0.0203), ncol=4,
           frameon=False, fontsize=26, handlelength=0.8, handleheight=1.0,
           handletextpad=0.55, columnspacing=1.6)

fig.savefig("out.png", dpi=100, facecolor="white")
